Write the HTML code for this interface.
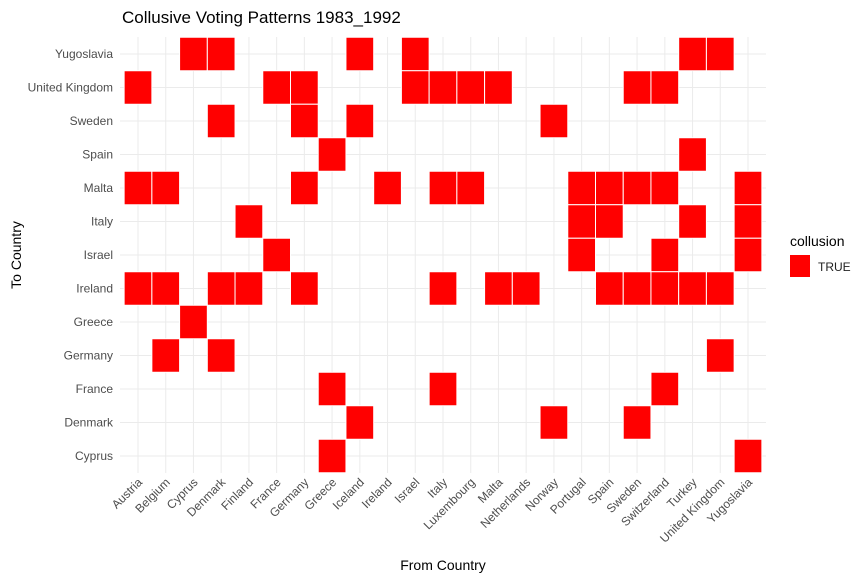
<!DOCTYPE html>
<html><head><meta charset="utf-8"><style>
body{margin:0;background:#fff;font-family:"Liberation Sans",sans-serif}
</style></head><body>
<svg id="chart" width="865" height="580" xmlns="http://www.w3.org/2000/svg">
<rect width="865" height="580" fill="#fff"/>
<text x="122" y="23" font-size="17" fill="#000">Collusive Voting Patterns 1983_1992</text>
<g id="grid"></g><g id="cells"></g><g id="xlabels"></g><g id="ylabels"></g>
<text x="443" y="570" font-size="14" text-anchor="middle">From Country</text>
<text transform="translate(21,255) rotate(-90)" font-size="14" text-anchor="middle">To Country</text>
<text x="790" y="246" font-size="14">collusion</text>
<rect x="790" y="255" width="20" height="22" fill="#ff0000"/>
<text x="818" y="271" font-size="12" fill="#222">TRUE</text>
</svg>
<script>
const fromCountries=["Austria","Belgium","Cyprus","Denmark","Finland","France","Germany","Greece","Iceland","Ireland","Israel","Italy","Luxembourg","Malta","Netherlands","Norway","Portugal","Spain","Sweden","Switzerland","Turkey","United Kingdom","Yugoslavia"];
const toCountries=["Cyprus","Denmark","France","Germany","Greece","Ireland","Israel","Italy","Malta","Spain","Sweden","United Kingdom","Yugoslavia"];
const pairsTo=["Yugoslavia","United Kingdom","Sweden","Spain","Malta","Italy","Israel","Ireland","Greece","Germany","France","Denmark","Cyprus"];
const pairsFrom=[
["Cyprus","Denmark","Iceland","Israel","Turkey","United Kingdom"],
["Austria","France","Germany","Israel","Italy","Luxembourg","Malta","Sweden","Switzerland"],
["Denmark","Germany","Iceland","Norway"],
["Greece","Turkey"],
["Austria","Belgium","Germany","Ireland","Italy","Luxembourg","Portugal","Spain","Sweden","Switzerland","Yugoslavia"],
["Finland","Portugal","Spain","Turkey","Yugoslavia"],
["France","Portugal","Switzerland","Yugoslavia"],
["Austria","Belgium","Denmark","Finland","Germany","Italy","Malta","Netherlands","Spain","Sweden","Switzerland","Turkey","United Kingdom"],
["Cyprus"],
["Belgium","Denmark","United Kingdom"],
["Greece","Italy","Switzerland"],
["Iceland","Norway","Sweden"],
["Greece","Yugoslavia"]];
const NS="http://www.w3.org/2000/svg";
const x0=138,xs=(748-138)/22,y0=456,ys=(456-54)/12;
const xPos=c=>x0+fromCountries.indexOf(c)*xs;
const yPos=c=>y0-toCountries.indexOf(c)*ys;
function mk(t,a,p){const e=document.createElementNS(NS,t);for(const k in a)e.setAttribute(k,a[k]);p.appendChild(e);return e;}
const grid=document.getElementById('grid'),cells=document.getElementById('cells'),xl=document.getElementById('xlabels'),yl=document.getElementById('ylabels');
fromCountries.forEach(c=>{const x=xPos(c);
 const l=mk('line',{x1:x,x2:x,y1:37,y2:473,stroke:'#ebebeb','stroke-width':1},grid);
 
 
 const t=mk('text',{transform:`translate(${x+5},483) rotate(-45)`,'text-anchor':'end','font-size':12,fill:'#4d4d4d'},xl);
 t.textContent=c;
 
 
});
toCountries.forEach(c=>{const y=yPos(c);
 const l=mk('line',{x1:120,x2:766,y1:y,y2:y,stroke:'#ebebeb','stroke-width':1},grid);
 
 
 const t=mk('text',{x:113,y:y+4,'text-anchor':'end','font-size':12,fill:'#4d4d4d'},yl);
 t.textContent=c;
 
 
});
pairsTo.forEach((to,i)=>{pairsFrom[i].forEach(fr=>{
 const r=mk('rect',{x:xPos(fr)-xs/2,y:yPos(to)-ys/2,width:xs,height:ys,fill:'#ff0000',stroke:'#fff','stroke-width':1},cells);
 
 
});});
</script>
</body></html>
